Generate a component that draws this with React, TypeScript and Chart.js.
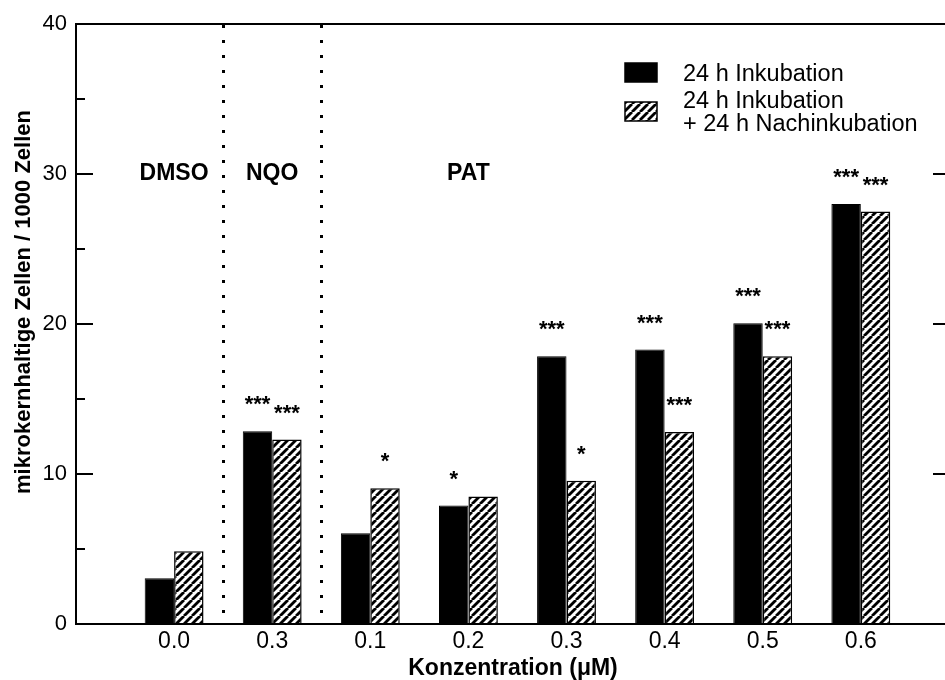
import React, { useEffect, useRef } from 'react';
import { Chart, registerables } from 'chart.js';
Chart.register(...registerables);

const categories = ['0.0', '0.3', '0.1', '0.2', '0.3', '0.4', '0.5', '0.6'];
const incubation24 = [3.05, 12.85, 6.05, 7.9, 17.85, 18.3, 20.05, 28.0];
const incubationPlusPost = [4.85, 12.3, 9.05, 8.5, 9.55, 12.8, 17.85, 27.5];
const sigIncubation = ['', '***', '', '*', '***', '***', '***', '***'];
const sigPost = ['', '***', '*', '', '*', '***', '***', '***'];
const seriesLabels = [['24 h Inkubation'], ['24 h Inkubation', '+ 24 h Nachinkubation']];
const groupLabels = ['DMSO', 'NQO', 'PAT'];
const groupLabelAt = [1, 2, 4];
const groupSeparators = [1.5, 2.5];
const groupLabelY = 30;
const yMajorTicks = [0, 10, 20, 30, 40];
const yMinorTicks = [5, 15, 25, 35];
const yTitle = 'mikrokernhaltige Zellen / 1000 Zellen';
const xTitle = 'Konzentration (\u03bcM)';

const FONT = '"Liberation Sans", Arial, Helvetica, sans-serif';

function makeHatch(): CanvasPattern | string {
  const c = document.createElement('canvas');
  c.width = 8;
  c.height = 8;
  const g = c.getContext('2d');
  if (!g) return '#fff';
  g.fillStyle = '#fff';
  g.fillRect(0, 0, 8, 8);
  g.strokeStyle = '#000';
  g.lineWidth = 2.8;
  for (const x0 of [-8, 0, 8]) {
    g.beginPath();
    g.moveTo(x0, 8);
    g.lineTo(x0 + 8, 0);
    g.stroke();
  }
  const p = g.createPattern(c, 'repeat');
  return p || '#fff';
}

const decorPlugin = {
  id: 'decor',
  afterDraw(chart: any) {
    const { ctx, chartArea } = chart;
    const xs = chart.scales.x;
    const ys = chart.scales.y;
    const L = chartArea.left;
    const R = chartArea.right;
    const T = chartArea.top;
    const B = chartArea.bottom;
    ctx.save();
    // frame
    ctx.strokeStyle = '#000';
    ctx.lineWidth = 2;
    ctx.beginPath();
    ctx.moveTo(R + 2, T);
    ctx.lineTo(L, T);
    ctx.lineTo(L, B);
    ctx.lineTo(R + 2, B);
    ctx.stroke();
    // y ticks inside
    for (const v of yMajorTicks) {
      const y = ys.getPixelForValue(v);
      ctx.beginPath();
      ctx.moveTo(L, y);
      ctx.lineTo(L + 17, y);
      ctx.moveTo(R, y);
      ctx.lineTo(R - 17, y);
      ctx.stroke();
    }
    for (const v of yMinorTicks) {
      const y = ys.getPixelForValue(v);
      ctx.beginPath();
      ctx.moveTo(L, y);
      ctx.lineTo(L + 9, y);
      ctx.stroke();
    }
    // dotted separators
    ctx.lineWidth = 3;
    ctx.setLineDash([3, 12]);
    for (const s of groupSeparators) {
      const x = Math.round(xs.getPixelForValue(s)) + 0.5;
      ctx.beginPath();
      ctx.moveTo(x, T + 1);
      ctx.lineTo(x, B);
      ctx.stroke();
    }
    ctx.setLineDash([]);
    // y title
    ctx.fillStyle = '#000';
    ctx.save();
    ctx.translate(24, 302);
    ctx.rotate(-Math.PI / 2);
    ctx.font = 'bold 22px ' + FONT;
    ctx.textAlign = 'center';
    ctx.textBaseline = 'middle';
    ctx.fillText(yTitle, 0, 0);
    ctx.restore();
    // group labels
    ctx.font = 'bold 23px ' + FONT;
    ctx.textAlign = 'center';
    ctx.textBaseline = 'middle';
    groupLabels.forEach((lab, i) => {
      ctx.fillText(lab, xs.getPixelForValue(groupLabelAt[i]), ys.getPixelForValue(groupLabelY));
    });
    // significance stars
    ctx.font = 'bold 22px ' + FONT;
    ctx.textBaseline = 'alphabetic';
    const sigs = [sigIncubation, sigPost];
    sigs.forEach((arr, di) => {
      const meta = chart.getDatasetMeta(di);
      meta.data.forEach((bar: any, i: number) => {
        if (arr[i]) ctx.fillText(arr[i], bar.x, bar.y - 20);
      });
    });
    // legend
    const lx = 625;
    const sw = 32;
    const sh = 19;
    const boxTops = [63, 102];
    const lineCenters = [[74.5], [101.5, 125]];
    ctx.font = '23.5px ' + FONT;
    ctx.textAlign = 'left';
    ctx.textBaseline = 'middle';
    chart.data.datasets.forEach((ds: any, di: number) => {
      ctx.fillStyle = ds.backgroundColor;
      ctx.fillRect(lx, boxTops[di], sw, sh);
      ctx.strokeStyle = '#000';
      ctx.lineWidth = 1.5;
      ctx.strokeRect(lx, boxTops[di], sw, sh);
      ctx.fillStyle = '#000';
      seriesLabels[di].forEach((t, li) => {
        ctx.fillText(t, 683, lineCenters[di][li]);
      });
    });
    ctx.restore();
  },
};

export default function App() {
  const ref = useRef<HTMLCanvasElement | null>(null);
  useEffect(() => {
    if (!ref.current) return;
    const hatch = makeHatch();
    const chart = new Chart(ref.current, {
      type: 'bar',
      data: {
        datasets: [
          {
            label: seriesLabels[0].join(' '),
            data: categories.map((_, i) => ({ x: i + 1, y: incubation24[i] })),
            backgroundColor: '#000',
            borderColor: '#000',
            borderWidth: 1,
            categoryPercentage: 0.6,
            barPercentage: 1.0,
          },
          {
            label: seriesLabels[1].join(' '),
            data: categories.map((_, i) => ({ x: i + 1, y: incubationPlusPost[i] })),
            backgroundColor: hatch as any,
            borderColor: '#000',
            borderWidth: 1.5,
            categoryPercentage: 0.6,
            barPercentage: 1.0,
          },
        ],
      },
      options: {
        responsive: false,
        animation: false,
        layout: { padding: { left: 8, top: 24, right: 0, bottom: 0 } },
        plugins: { legend: { display: false }, tooltip: { enabled: false } },
        scales: {
          x: {
            type: 'linear',
            offset: false,
            min: 0,
            max: 8.909,
            grid: { display: false, drawTicks: false },
            border: { display: false },
            afterBuildTicks: (s: any) => {
              s.ticks = categories.map((_, i) => ({ value: i + 1 }));
            },
            ticks: {
              autoSkip: false,
              maxRotation: 0,
              padding: 4,
              color: '#000',
              font: { family: FONT, size: 23 },
              callback: (v: any) => {
                const n = Number(v);
                return Number.isInteger(n) && n >= 1 && n <= categories.length ? categories[n - 1] : '';
              },
            },
            title: {
              display: true,
              text: xTitle,
              color: '#000',
              font: { family: FONT, size: 23, weight: 'bold', lineHeight: 1 },
              padding: { top: 0, bottom: 0 },
            },
            afterFit: (s: any) => {
              s.height = 56;
            },
          },
          y: {
            min: 0,
            max: 40,
            grid: { display: false, drawTicks: false },
            border: { display: false },
            ticks: {
              stepSize: 10,
              padding: 9,
              color: '#000',
              font: { family: FONT, size: 22 },
            },
            afterFit: (s: any) => {
              s.width = 68;
            },
          },
        },
      } as any,
      plugins: [decorPlugin],
    });
    return () => chart.destroy();
  }, []);
  return (
    <div style={{ position: 'fixed', left: 0, top: 0, width: 945, height: 680, overflow: 'hidden', background: '#fff' }}>
      <canvas ref={ref} width={950} height={680} style={{ display: 'block' }} />
    </div>
  );
}
